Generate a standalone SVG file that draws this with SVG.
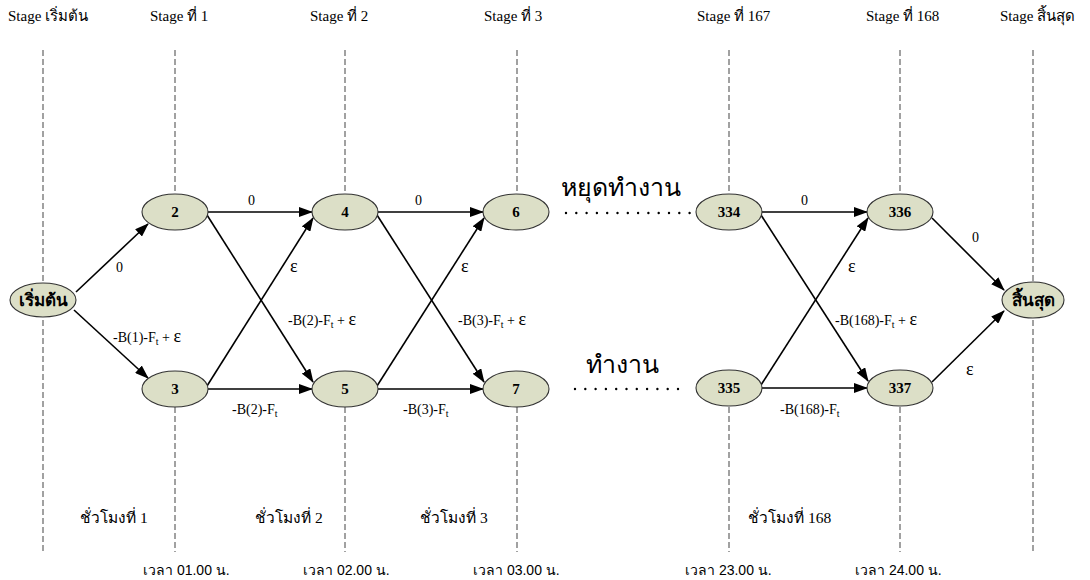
<svg xmlns="http://www.w3.org/2000/svg" width="1090" height="580" viewBox="0 0 1090 580">
<style>
.stage{font-family:"Liberation Serif","DejaVu Serif",serif;font-size:15px;fill:#000}
.lbl{font-family:"Liberation Serif","DejaVu Serif",serif;font-size:14px;fill:#000}
.eps{font-family:"Liberation Serif","DejaVu Serif",serif;font-size:18px;fill:#000}
.sub{font-size:10px}
.num{font-family:"Liberation Serif","DejaVu Serif",serif;font-size:15px;font-weight:bold;text-anchor:middle;fill:#000}
.thn{font-family:"Liberation Serif","DejaVu Serif",serif;font-size:17px;font-weight:bold;text-anchor:middle;fill:#000}
.big{font-family:"Liberation Serif","DejaVu Serif",serif;font-size:25px;fill:#000}
.hr{font-family:"Liberation Serif","DejaVu Serif",serif;font-size:15.5px;fill:#000}
.tm{font-family:"Liberation Sans","DejaVu Sans",sans-serif;font-size:14px;fill:#000}
.node{fill:#dcdfc7;stroke:#333;stroke-width:1.1}
.grid{stroke:#555;stroke-width:1.1;stroke-dasharray:6 3;fill:none}
.edge{stroke:#000;stroke-width:1.6;fill:none;marker-end:url(#ah)}
.dots{stroke:#000;stroke-width:2.4;stroke-linecap:round;stroke-dasharray:0 10.3;fill:none}
</style>
<defs>
<marker id="ah" markerUnits="userSpaceOnUse" markerWidth="14" markerHeight="10" refX="13" refY="5" orient="auto">
<path d="M0,0 L14,5 L0,10 z" fill="#000"/>
</marker>
</defs>
<rect width="1090" height="580" fill="#fff"/>
<g id="stage-lines">
<line class="grid" x1="43" y1="50" x2="43" y2="552"/>
<line class="grid" x1="175" y1="50" x2="175" y2="193"/>
<line class="grid" x1="175" y1="407" x2="175" y2="552"/>
<line class="grid" x1="345" y1="50" x2="345" y2="193"/>
<line class="grid" x1="345" y1="407" x2="345" y2="552"/>
<line class="grid" x1="517" y1="50" x2="517" y2="193"/>
<line class="grid" x1="517" y1="407" x2="517" y2="552"/>
<line class="grid" x1="729" y1="50" x2="729" y2="193"/>
<line class="grid" x1="729" y1="407" x2="729" y2="552"/>
<line class="grid" x1="900" y1="50" x2="900" y2="193"/>
<line class="grid" x1="900" y1="407" x2="900" y2="552"/>
<line class="grid" x1="1033" y1="50" x2="1033" y2="552"/>
</g>
<g id="stage-labels">
<text class="stage" x="8" y="21">Stage เริ่มต้น</text>
<text class="stage" x="150" y="21">Stage ที่ 1</text>
<text class="stage" x="310" y="21">Stage ที่ 2</text>
<text class="stage" x="484" y="21">Stage ที่ 3</text>
<text class="stage" x="697" y="21">Stage ที่ 167</text>
<text class="stage" x="866" y="21">Stage ที่ 168</text>
<text class="stage" x="1000" y="21">Stage สิ้นสุด</text>
</g>
<g id="connectors">
<path class="edge" d="M76,292 L148,224"/>
<path class="edge" d="M74,310 L148,378"/>
<path class="edge" d="M208,212 L312,212"/>
<path class="edge" d="M207,215 L313,382"/>
<path class="edge" d="M207,386 L313,218"/>
<path class="edge" d="M208,389 L312,389"/>
<path class="edge" d="M378,212 L483,212"/>
<path class="edge" d="M377,215 L484,382"/>
<path class="edge" d="M377,386 L484,218"/>
<path class="edge" d="M378,389 L483,389"/>
<path class="edge" d="M762,212 L867,212"/>
<path class="edge" d="M761,215 L868,381"/>
<path class="edge" d="M761,385 L868,218"/>
<path class="edge" d="M762,388 L867,388"/>
<path class="edge" d="M932,218 L1004,290"/>
<path class="edge" d="M932,382 L1004,311"/>
<path class="dots" d="M566,213 L690,213"/>
<path class="dots" d="M575,389 L683,389"/>
</g>
<g id="edge-labels">
<text class="lbl" x="116" y="272">0</text>
<text class="lbl" x="113" y="342">-B(1)-F<tspan class="sub" dy="3">t</tspan><tspan dy="-3"> + </tspan><tspan class="eps">ε</tspan></text>
<text class="lbl" x="248" y="205">0</text>
<text class="eps" x="290" y="272">ε</text>
<text class="lbl" x="288" y="325">-B(2)-F<tspan class="sub" dy="3">t</tspan><tspan dy="-3"> + </tspan><tspan class="eps">ε</tspan></text>
<text class="lbl" x="232" y="414">-B(2)-F<tspan class="sub" dy="3">t</tspan></text>
<text class="lbl" x="415" y="205">0</text>
<text class="eps" x="461" y="272">ε</text>
<text class="lbl" x="458" y="325">-B(3)-F<tspan class="sub" dy="3">t</tspan><tspan dy="-3"> + </tspan><tspan class="eps">ε</tspan></text>
<text class="lbl" x="403" y="414">-B(3)-F<tspan class="sub" dy="3">t</tspan></text>
<text class="big" x="561" y="196">หยุดทำงาน</text>
<text class="big" x="586" y="373">ทำงาน</text>
<text class="lbl" x="801" y="205">0</text>
<text class="eps" x="848" y="272">ε</text>
<text class="lbl" x="835" y="325">-B(168)-F<tspan class="sub" dy="3">t</tspan><tspan dy="-3"> + </tspan><tspan class="eps">ε</tspan></text>
<text class="lbl" x="780" y="414">-B(168)-F<tspan class="sub" dy="3">t</tspan></text>
<text class="lbl" x="972" y="242">0</text>
<text class="eps" x="966" y="375">ε</text>
</g>
<g id="node-start"><ellipse class="node" cx="43" cy="300" rx="33" ry="17"/><text class="thn" x="43" y="306">เริ่มต้น</text></g>
<g id="node-2"><ellipse class="node" cx="175" cy="212" rx="33" ry="18"/><text class="num" x="175" y="217">2</text></g>
<g id="node-3"><ellipse class="node" cx="175" cy="389" rx="33" ry="18"/><text class="num" x="175" y="394">3</text></g>
<g id="node-4"><ellipse class="node" cx="345" cy="212" rx="33" ry="18"/><text class="num" x="345" y="217">4</text></g>
<g id="node-5"><ellipse class="node" cx="345" cy="389" rx="33" ry="18"/><text class="num" x="345" y="394">5</text></g>
<g id="node-6"><ellipse class="node" cx="516" cy="212" rx="33" ry="18"/><text class="num" x="516" y="217">6</text></g>
<g id="node-7"><ellipse class="node" cx="516" cy="389" rx="33" ry="18"/><text class="num" x="516" y="394">7</text></g>
<g id="node-334"><ellipse class="node" cx="729" cy="212" rx="33" ry="18"/><text class="num" x="729" y="217">334</text></g>
<g id="node-335"><ellipse class="node" cx="729" cy="388" rx="33" ry="18"/><text class="num" x="729" y="393">335</text></g>
<g id="node-336"><ellipse class="node" cx="900" cy="212" rx="33" ry="18"/><text class="num" x="900" y="217">336</text></g>
<g id="node-337"><ellipse class="node" cx="900" cy="388" rx="33" ry="18"/><text class="num" x="900" y="393">337</text></g>
<g id="node-end"><ellipse class="node" cx="1033" cy="300" rx="31" ry="18"/><text class="thn" x="1033" y="306">สิ้นสุด</text></g>
<g id="bottom-labels">
<text class="hr" x="80" y="523">ชั่วโมงที่ 1</text>
<text class="hr" x="255" y="523">ชั่วโมงที่ 2</text>
<text class="hr" x="420" y="523">ชั่วโมงที่ 3</text>
<text class="hr" x="748" y="523">ชั่วโมงที่ 168</text>
<text class="tm" x="143" y="575">เวลา 01.00 น.</text>
<text class="tm" x="303" y="575">เวลา 02.00 น.</text>
<text class="tm" x="473" y="575">เวลา 03.00 น.</text>
<text class="tm" x="685" y="575">เวลา 23.00 น.</text>
<text class="tm" x="855" y="575">เวลา 24.00 น.</text>
</g>
</svg>
